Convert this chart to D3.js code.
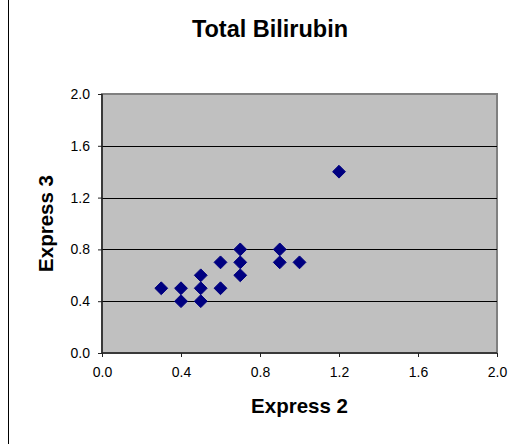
<!DOCTYPE html>
<html>
<head>
<meta charset="utf-8">
<script src="https://cdn.jsdelivr.net/npm/d3@7"></script>
<style>
  body { margin: 0; background: #fff; }
  svg { display: block; font-family: Arial, "Liberation Sans", sans-serif; }
</style>
</head>
<body>
<div id="chart"></div>
<script>
var express2 = [0.3, 0.4, 0.4, 0.5, 0.5, 0.5, 0.6, 0.6, 0.7, 0.7, 0.7, 0.9, 0.9, 1.0, 1.2];
var express3 = [0.5, 0.5, 0.4, 0.6, 0.5, 0.4, 0.7, 0.5, 0.8, 0.7, 0.6, 0.8, 0.7, 0.7, 1.4];
var tickValues = [0, 0.4, 0.8, 1.2, 1.6, 2.0];

var width = 526, height = 444;
var plot = {left: 102, top: 94, right: 497, bottom: 353};

var svg = d3.select("#chart").append("svg")
    .attr("width", width)
    .attr("height", height);

// chart frame, only the left edge shows in the picture
svg.append("line")
    .attr("x1", 8.5).attr("x2", 8.5)
    .attr("y1", 0).attr("y2", height)
    .attr("stroke", "#000")
    .attr("stroke-width", 1);

var x = d3.scaleLinear().domain([0, 2]).range([plot.left, plot.right]);
var y = d3.scaleLinear().domain([0, 2]).range([plot.bottom, plot.top]);

// plot area
svg.append("rect")
    .attr("x", plot.left)
    .attr("y", plot.top)
    .attr("width", plot.right - plot.left)
    .attr("height", plot.bottom - plot.top)
    .attr("fill", "#c0c0c0")
    .attr("stroke", "#808080")
    .attr("stroke-width", 2);

// gridlines
svg.append("g").selectAll("line")
    .data(tickValues.filter(function(d) { return d > 0 && d < 2; }))
    .enter().append("line")
    .attr("x1", plot.left).attr("x2", plot.right)
    .attr("y1", function(d) { return Math.round(y(d)) + 0.5; })
    .attr("y2", function(d) { return Math.round(y(d)) + 0.5; })
    .attr("stroke", "#000")
    .attr("stroke-width", 1);

var fmt = d3.format(".1f");

var xAxis = svg.append("g")
    .attr("transform", "translate(0," + plot.bottom + ")")
    .call(d3.axisBottom(x).tickValues(tickValues).tickFormat(fmt).tickSize(4).tickPadding(10));

var yAxis = svg.append("g")
    .attr("transform", "translate(" + plot.left + ",0)")
    .call(d3.axisLeft(y).tickValues(tickValues).tickFormat(fmt).tickSize(4).tickPadding(8));

[xAxis, yAxis].forEach(function(a) {
    a.selectAll(".domain").attr("stroke", "#222").attr("stroke-width", 1.5);
    a.selectAll(".tick line").attr("stroke", "#222");
    a.selectAll("text")
        .attr("fill", "#000")
        .style("font-size", "14px")
        .style("font-family", "Arial, 'Liberation Sans', sans-serif");
});
xAxis.select(".domain").attr("d", "M" + plot.left + ",0H" + plot.right);
yAxis.select(".domain").attr("d", "M0," + plot.bottom + "V" + plot.top);

// points
var points = express2.map(function(d, i) { return {x: d, y: express3[i]}; });
var diamond = d3.symbol().type(d3.symbolDiamond2).size(105);

svg.append("g").selectAll("path")
    .data(points)
    .enter().append("path")
    .attr("d", diamond)
    .attr("transform", function(d) { return "translate(" + x(d.x) + "," + y(d.y) + ")"; })
    .attr("fill", "#000080")
    .attr("stroke", "#000080")
    .attr("stroke-width", 1);

// titles
svg.append("text")
    .attr("x", 270)
    .attr("y", 37)
    .attr("text-anchor", "middle")
    .style("font-size", "23.5px")
    .style("font-weight", "bold")
    .text("Total Bilirubin");

svg.append("text")
    .attr("x", (plot.left + plot.right) / 2)
    .attr("y", 413)
    .attr("text-anchor", "middle")
    .style("font-size", "20.5px")
    .style("font-weight", "bold")
    .text("Express 2");

svg.append("text")
    .attr("transform", "translate(53," + (plot.top + plot.bottom) / 2 + ") rotate(-90)")
    .attr("text-anchor", "middle")
    .style("font-size", "20.5px")
    .style("font-weight", "bold")
    .text("Express 3");
</script>
</body>
</html>
